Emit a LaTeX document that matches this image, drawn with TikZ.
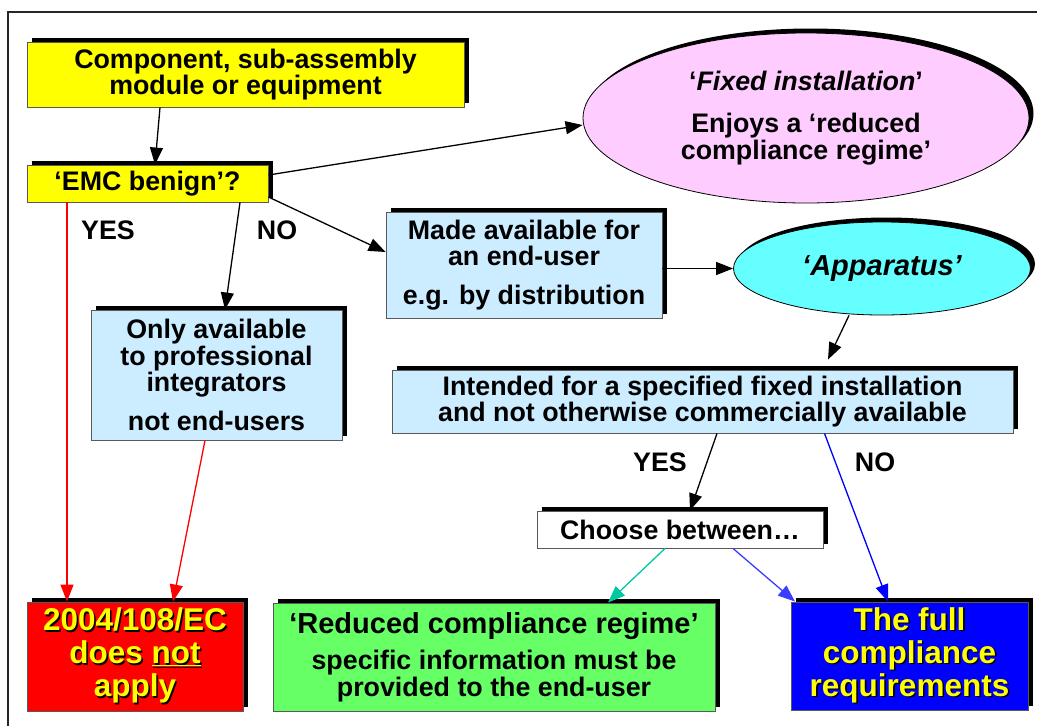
\documentclass[tikz,border=0pt]{standalone}
\usepackage{fontspec}
\setmainfont{Liberation Sans}
\usetikzlibrary{arrows.meta,shadows,shapes.geometric}
\definecolor{cyel}{RGB}{255,255,0}
\definecolor{clb}{RGB}{204,236,255}
\definecolor{cpink}{RGB}{255,204,255}
\definecolor{ccyan}{RGB}{102,255,255}
\definecolor{cred}{RGB}{255,0,0}
\definecolor{cgreen}{RGB}{102,255,102}
\definecolor{cblue}{RGB}{0,0,255}
\definecolor{cteal}{RGB}{0,200,160}
\definecolor{carb}{RGB}{60,60,255}
\newcommand\yshad[1]{\leavevmode\rlap{\kern1.6pt\raisebox{-1.6pt}{\color{black}#1}}#1}
\begin{document}
\begin{tikzpicture}[x=1pt,y=-1pt,
  sh/.style={drop shadow={shadow xshift=4.5pt,shadow yshift=4.5pt,opacity=1,fill=black}},
  boxn/.style={rectangle,draw=gray!70!black,line width=0.9pt,inner sep=0pt,align=center,sh,
    font=\fontsize{26.8}{26.8}\bfseries\selectfont},
  ell/.style={ellipse,draw=black,line width=0.8pt,inner sep=0pt,align=center,sh,
    font=\fontsize{26.8}{26.8}\bfseries\selectfont},
  big/.style={font=\fontsize{31.5}{33}\bfseries\selectfont},
  arr/.style={line width=1.3pt,-{Triangle[length=17pt,width=13pt]}},
  lbl/.style={font=\fontsize{26.8}{26.8}\bfseries\selectfont}
]
\useasboundingbox (0,0) rectangle (1037,726);
\draw[line width=1.5pt,black!85] (8,726) -- (8,12) -- (1037,12);

\node[boxn,fill=cyel,minimum width=437pt,minimum height=65pt] (comp) at (245.5,74.5) {Component, sub-assembly\\module or equipment};
\node[boxn,fill=cyel,minimum width=241pt,minimum height=37pt] (emc) at (147.5,183.5) {‘EMC benign’?};
\node[ell,fill=cpink,minimum width=446pt,minimum height=170pt] (fix) at (806,118) {‘\textit{Fixed installation}’\\[16pt]Enjoys a ‘reduced\\compliance regime’};
\node[boxn,fill=clb,minimum width=276pt,minimum height=106pt] (made) at (524,265) {Made available for\\an end-user\\[12pt]e.g. by distribution};
\node[ell,fill=ccyan,minimum width=297pt,minimum height=93pt,font=\fontsize{29}{30}\bfseries\itshape\selectfont] (app) at (882,268.5) {‘Apparatus’};
\node[boxn,fill=clb,minimum width=251pt,minimum height=130pt] (only) at (216.5,375) {Only available\\to professional\\integrators\\[12pt]not end-users};
\node[boxn,fill=clb,minimum width=621pt,minimum height=63pt] (int) at (702.5,401.5) {Intended for a specified fixed installation\\and not otherwise commercially available};
\node[boxn,fill=white,minimum width=286pt,minimum height=37pt] (cho) at (680,529.5) {Choose between…};
\node[boxn,big,fill=cred,text=cyel,minimum width=216pt,minimum height=109pt] (eu) at (135,656.5) {\yshad{2004/108/EC}\\\yshad{does \underline{not}}\\\yshad{apply}};
\node[boxn,fill=cgreen,minimum width=442pt,minimum height=108pt] (rcr) at (494,657) {{\fontsize{29}{30}\selectfont ‘Reduced compliance regime’}\\[9pt]specific information must be\\provided to the end-user};
\node[boxn,big,fill=cblue,text=cyel,minimum width=237pt,minimum height=108pt] (full) at (909.5,656) {\yshad{The full}\\\yshad{compliance}\\\yshad{requirements}};

\node[lbl] (yes1) at (108,230) {YES};
\node[lbl] (no1) at (277,230) {NO};
\node[lbl] (yes2) at (660,462) {YES};
\node[lbl] (no2) at (875,462) {NO};

\draw[arr] ([xshift=-85.5pt]comp.south) -- ([xshift=7.5pt]emc.north);
\draw[arr] ([yshift=8.5pt]emc.east) -- ([yshift=-7pt]fix.west);
\draw[arr] ([yshift=-13.5pt]emc.east) -- ([yshift=13pt]made.west);
\draw[arr] ([xshift=92.5pt]emc.south) -- ([xshift=8.5pt]only.north);
\draw[arr,red] ([xshift=-80.5pt]emc.south) -- ([xshift=-68pt]eu.north);
\draw[arr,red] ([xshift=-11.5pt]only.south) -- ([xshift=38pt]eu.north);
\draw[arr] ([yshift=-3.5pt]made.east) -- (app.west);
\draw[arr] ([xshift=-33pt]app.south) -- ([xshift=125.5pt,yshift=10pt]int.north);
\draw[arr] ([xshift=14.5pt]int.south) -- ([xshift=10pt]cho.north);
\draw[arr,cblue] ([xshift=122pt]int.south) -- ([xshift=-21.5pt]full.north);
\draw[arr,cteal] ([xshift=-15pt]cho.south) -- ([xshift=114pt]rcr.north);
\draw[arr,carb] ([xshift=53pt]cho.south) -- ([xshift=-114.5pt]full.north);
\end{tikzpicture}
\end{document}
